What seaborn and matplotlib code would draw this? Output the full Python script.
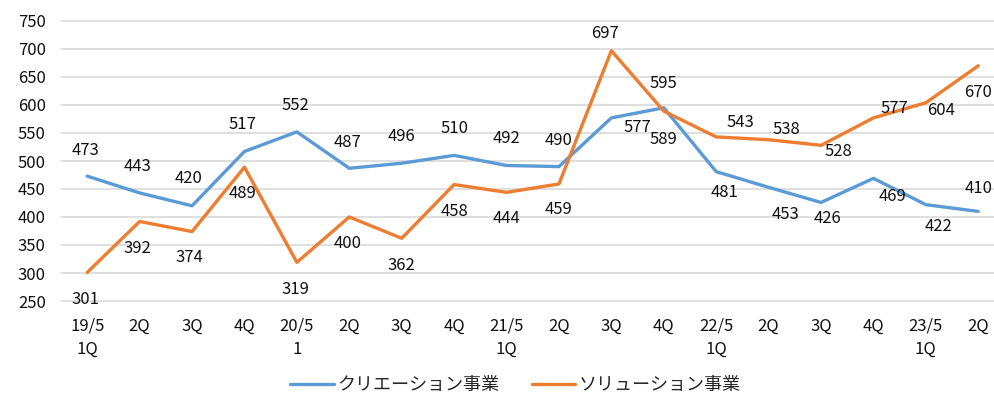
import pandas as pd
import matplotlib.pyplot as plt
import seaborn as sns

# 四半期ラベル
quarters = ["19/5\n1Q", "2Q", "3Q", "4Q", "20/5\n1", "2Q", "3Q", "4Q",
            "21/5\n1Q", "2Q", "3Q", "4Q", "22/5\n1Q", "2Q", "3Q", "4Q",
            "23/5\n1Q", "2Q"]
creation = [473, 443, 420, 517, 552, 487, 496, 510, 492, 490,
            577, 595, 481, 453, 426, 469, 422, 410]
solution = [301, 392, 374, 489, 319, 400, 362, 458, 444, 459,
            697, 589, 543, 538, 528, 577, 604, 670]

names = ["クリエーション事業", "ソリューション事業"]
colors = ["#5B9BD5", "#ED7D31"]

# データラベルのずれ (ピクセル, 右・下が正)
creation_off = [(-2, -26), (-2, -26), (-3, -27), (-2, -27), (-1, -26), (-2, -26),
                (0, -27), (0, -27), (0, -27), (0, -26), (26, 10), (0, -24),
                (8, 21), (17, 27), (6, 16), (19, 18), (13, 22), (0, -23)]
solution_off = [(-2, 27), (-2, 27), (-3, 26), (-2, 26), (-1, 27), (-2, 27),
                (0, 27), (0, 27), (0, 26), (0, 26), (-6, -17), (0, 28),
                (24, -14), (18, -10), (17, 6), (21, -9), (15, 8), (0, 27)]

df = pd.DataFrame({
    "idx": list(range(len(quarters))) * 2,
    "value": creation + solution,
    "series": [names[0]] * len(creation) + [names[1]] * len(solution),
})

sns.set_style("white")
plt.rcParams["font.family"] = ["Noto Sans CJK JP", "DejaVu Sans"]

fig = plt.figure(figsize=(9.94, 3.98), dpi=100)
ax = fig.add_axes([61 / 994, 1 - 301 / 398, (994 - 61) / 994, 280 / 398])

sns.lineplot(data=df, x="idx", y="value", hue="series", palette=colors,
             linewidth=2.4, ax=ax, legend=True)

for vals, offs in [(creation, creation_off), (solution, solution_off)]:
    for i, (v, (dx, dy)) in enumerate(zip(vals, offs)):
        ax.annotate(str(v), (i, v), xytext=(dx * 0.72, -dy * 0.72),
                    textcoords="offset points", ha="center", va="center",
                    fontsize=12, color="#111111")

ax.set_ylim(250, 750)
ax.set_yticks(range(250, 751, 50))
ax.set_xlim(-0.5, 17.3)
ax.set_xticks(range(len(quarters)))
ax.set_xticklabels(quarters, fontsize=12, linespacing=1.5, va="top")
ax.tick_params(axis="y", labelsize=12, length=0, pad=11, labelcolor="#111111")
ax.tick_params(axis="x", length=0, pad=12, labelcolor="#111111")
ax.yaxis.grid(True, color="#d9d9d9", linewidth=1.2)
for g in ax.yaxis.get_gridlines():
    g.set_clip_on(False)
ax.set_axisbelow(True)
for s in ax.spines.values():
    s.set_visible(False)
ax.set_xlabel("")
ax.set_ylabel("")

ax.legend(loc="center", bbox_to_anchor=(0.487, -0.3), ncol=2, frameon=False,
          fontsize=13, handlelength=2.4, columnspacing=1.8, handletextpad=0.2)

fig.savefig("out.png", dpi=100, facecolor="white")
